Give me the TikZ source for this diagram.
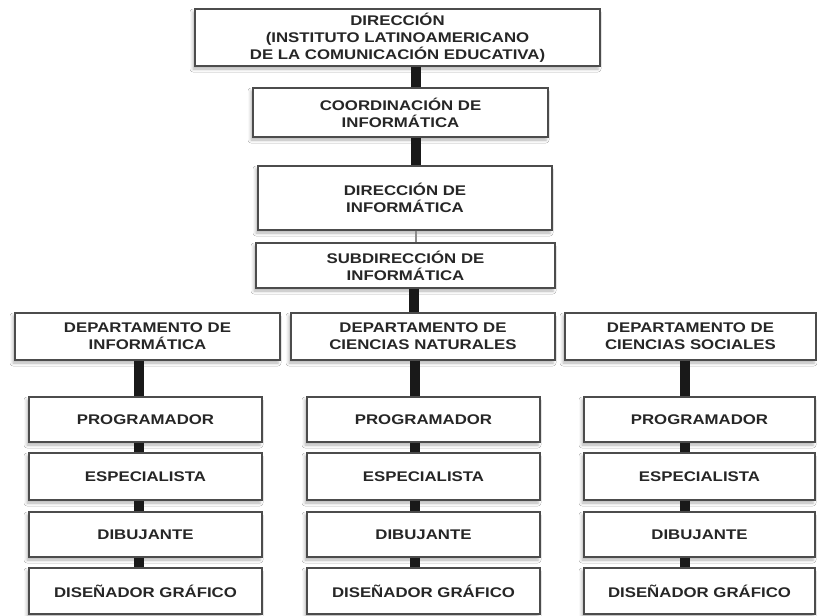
\documentclass[tikz,border=0pt]{standalone}
\usepackage{fontspec}
\newfontfamily\boxfont{Liberation Sans}[FakeStretch=1.2]
\usetikzlibrary{shadows.blur}
\begin{document}
\begin{tikzpicture}[x=1pt,y=-1pt,
  box/.style={draw=black!70, line width=1.1pt, fill=white, rectangle, inner sep=0pt,
    align=center, text=black!85,
    font=\boxfont\bfseries\fontsize{14}{17}\selectfont,
    blur shadow={shadow xshift=-2pt, shadow yshift=-3pt, shadow blur radius=3pt, shadow opacity=30}},
  conn/.style={draw=black!90, line width=10pt},
  thinconn/.style={draw=black!45, line width=2pt}]
\useasboundingbox (0,0) rectangle (817,616);
\fill[white] (0,0) rectangle (817,616);
% top chain
\node[box, minimum width=405pt, minimum height=57pt] (dir) at (397.5,37.5)
  {DIRECCIÓN\\(INSTITUTO LATINOAMERICANO\\DE LA COMUNICACIÓN EDUCATIVA)};
\node[box, minimum width=295pt, minimum height=49pt] (coord) at (400.5,112.5)
  {COORDINACIÓN DE\\INFORMÁTICA};
\node[box, minimum width=294pt, minimum height=64pt] (dinf) at (405,198)
  {DIRECCIÓN DE\\INFORMÁTICA};
\node[box, minimum width=299pt, minimum height=45pt] (sub) at (405.5,265.5)
  {SUBDIRECCIÓN DE\\INFORMÁTICA};
% departments
\node[box, minimum width=265pt, minimum height=47pt] (d1) at (147.5,336.5)
  {DEPARTAMENTO DE\\INFORMÁTICA};
\node[box, minimum width=264pt, minimum height=47pt] (d2) at (423,336.5)
  {DEPARTAMENTO DE\\CIENCIAS NATURALES};
\node[box, minimum width=251pt, minimum height=47pt] (d3) at (690.5,336.5)
  {DEPARTAMENTO DE\\CIENCIAS SOCIALES};
% columns
\foreach \c/\x/\w in {1/145.5/233, 2/423.5/233, 3/699.5/231}{
  \node[box, minimum width=\w pt, minimum height=45pt] (p\c) at (\x,419.5) {PROGRAMADOR};
  \node[box, minimum width=\w pt, minimum height=47pt] (e\c) at (\x,476.5) {ESPECIALISTA};
  \node[box, minimum width=\w pt, minimum height=45pt] (b\c) at (\x,534.5) {DIBUJANTE};
  \node[box, minimum width=\w pt, minimum height=46pt] (g\c) at (\x,591) {DISEÑADOR GRÁFICO};
}
% connectors
\coordinate (cx) at (416,0);
\draw[conn] (dir.south -| cx) -- (coord.north -| cx);
\draw[conn] (coord.south -| cx) -- (dinf.north -| cx);
\draw[thinconn] (dinf.south -| cx) -- (sub.north -| cx);
\coordinate (cy) at (414,0);
\draw[conn] (sub.south -| cy) -- (d2.north -| cy);
\foreach \c/\x in {1/139, 2/415, 3/685}{
  \coordinate (k\c) at (\x,0);
}
\draw[conn] (d1.south -| k1) -- (p1.north -| k1);
\draw[conn] (d2.south -| k2) -- (p2.north -| k2);
\draw[conn] (d3.south -| k3) -- (p3.north -| k3);
\foreach \c in {1,2,3}{
  \draw[conn] (p\c.south -| k\c) -- (e\c.north -| k\c);
  \draw[conn] (e\c.south -| k\c) -- (b\c.north -| k\c);
  \draw[conn] (b\c.south -| k\c) -- (g\c.north -| k\c);
}
\end{tikzpicture}
\end{document}
